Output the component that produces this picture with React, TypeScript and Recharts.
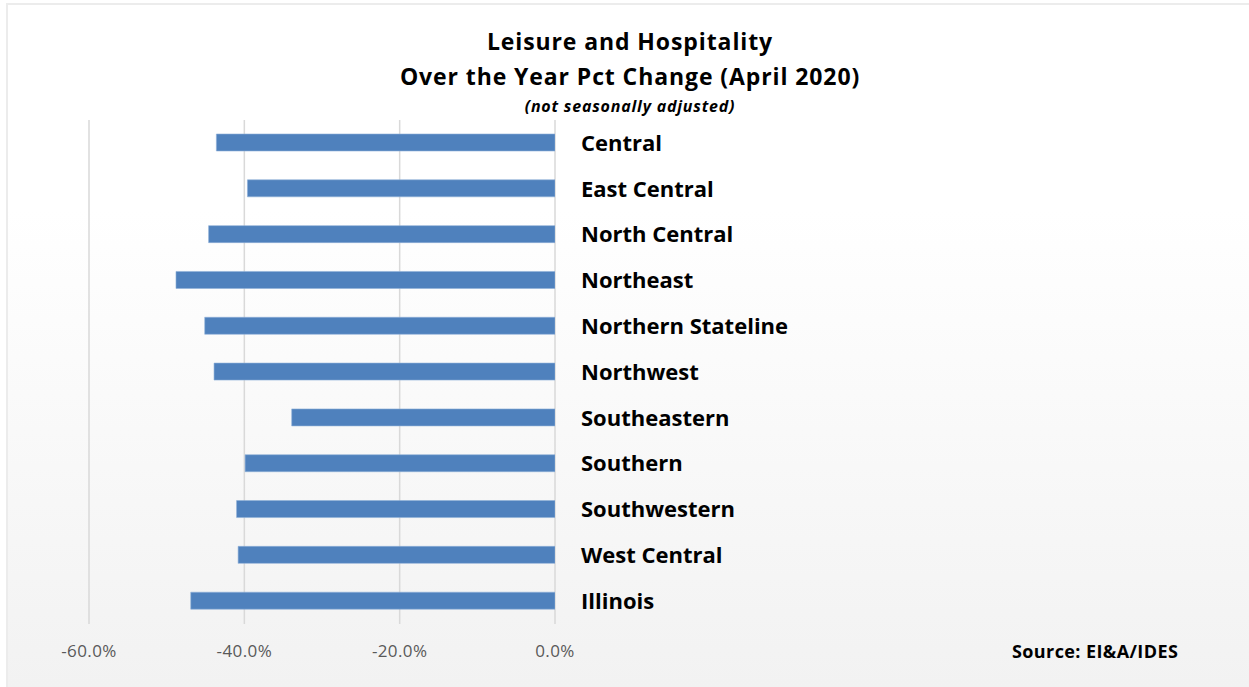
import React from "react";
import { BarChart, Bar, XAxis, YAxis, CartesianGrid } from "recharts";

const regions = [
  "Central",
  "East Central",
  "North Central",
  "Northeast",
  "Northern Stateline",
  "Northwest",
  "Southeastern",
  "Southern",
  "Southwestern",
  "West Central",
  "Illinois",
];
const pctChange = [-43.6, -39.6, -44.6, -48.8, -45.1, -43.9, -33.9, -39.9, -41.0, -40.8, -46.9];
const xTicks = [-60, -40, -20, 0];

const data = regions.map((region, i) => ({ region, value: pctChange[i] }));

const FONT = "'Open Sans', Lato, sans-serif";

export default function App() {
  return (
    <div
      style={{
        position: "absolute",
        left: 0,
        top: 0,
        width: 1249,
        height: 687,
        background: "#ffffff",
        fontFamily: FONT,
        overflow: "hidden",
      }}
    >
      <div
        style={{
          position: "absolute",
          left: 6,
          top: 3,
          width: 1243,
          height: 684,
          boxSizing: "border-box",
          borderLeft: "2px solid #ececec",
          borderTop: "2px solid #ececec",
          background: "linear-gradient(to bottom, #ffffff 0%, #ffffff 30%, #f2f2f2 100%)",
        }}
      />
      <div
        style={{
          position: "absolute",
          left: 0,
          width: 1260,
          top: 24,
          textAlign: "center",
          fontWeight: 700,
          fontSize: 23,
          letterSpacing: "0.9px",
          lineHeight: "35px",
          color: "#000",
        }}
      >
        <div>Leisure and Hospitality</div>
        <div>Over the Year Pct Change (April 2020)</div>
        <div
          style={{
            fontSize: 16,
            fontStyle: "italic",
            letterSpacing: "0.8px",
            lineHeight: "22px",
            marginTop: 1,
          }}
        >
          (not seasonally adjusted)
        </div>
      </div>
      <div
        style={{
          position: "absolute",
          left: 1012,
          top: 639,
          fontWeight: 700,
          fontSize: 18,
          letterSpacing: "0.4px",
          color: "#000",
        }}
      >
        Source: EI&amp;A/IDES
      </div>
      <div style={{ position: "absolute", left: 0, top: 0 }}>
        <BarChart
          width={1249}
          height={687}
          data={data}
          layout="vertical"
          margin={{ top: 120, right: 394, bottom: 33, left: 89 }}
        >
          <CartesianGrid horizontal={false} stroke="#d9d9d9" strokeWidth={1.5} />
          <XAxis
            type="number"
            domain={[-60, 0]}
            ticks={xTicks}
            tickFormatter={(v: number) => `${v.toFixed(1)}%`}
            axisLine={false}
            tickLine={false}
            tickMargin={15}
            height={30}
            tick={{ fill: "#595959", fontSize: 17, fontFamily: FONT, letterSpacing: "0.4px" }}
            allowDataOverflow
          />
          <YAxis
            type="category"
            dataKey="region"
            orientation="right"
            width={300}
            axisLine={false}
            tickLine={false}
            tickMargin={20}
            interval={0}
            tick={{ fill: "#000", fontSize: 22, fontWeight: 700, fontFamily: FONT, textAnchor: "start" }}
          />
          <Bar
            dataKey="value"
            fill="#4f81bd"
            stroke="#8eb0d8"
            strokeWidth={0.6}
            barSize={17}
            isAnimationActive={false}
          />
        </BarChart>
      </div>
    </div>
  );
}
